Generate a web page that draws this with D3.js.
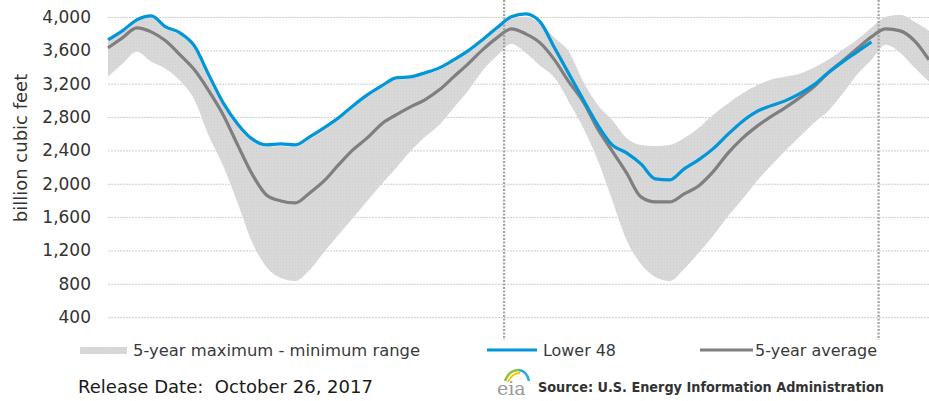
<!DOCTYPE html>
<html><head><meta charset="utf-8">
<script src="https://cdn.jsdelivr.net/npm/d3@7"></script>
<style>body{margin:0;background:#fff;} svg{display:block;}</style>
</head><body><svg id="chart" width="929" height="401"></svg>
<script>
// week index (every 2 weeks) for the 5-year series
const weeks = [0,2,4,6,8,10,12,14,16,18,20,22,24,26,28,30,32,34,36,38,40,42,44,46,48,50,52,54,56,58,60,62,64,66,68,70,72,74,76,78,80,82,84,86,88,90,92,94,96,98,100,102,104,106,108,110,112,114];
// Lower 48 working gas in storage (billion cubic feet), weeks 0..106
const lower48 = [3726,3834,3966,4014,3882,3810,3654,3306,2970,2718,2538,2466,2478,2466,2562,2670,2790,2934,3066,3174,3270,3282,3330,3390,3486,3594,3726,3870,4002,4038,3942,3630,3318,3006,2706,2466,2370,2238,2058,2046,2178,2286,2418,2586,2742,2862,2934,2994,3078,3186,3330,3462,3582,3702];
// 5-year average
const avg5 = [3630,3750,3870,3822,3714,3546,3366,3114,2826,2466,2118,1866,1794,1770,1890,2034,2226,2406,2550,2718,2826,2922,3006,3126,3282,3438,3606,3750,3858,3798,3690,3486,3222,2982,2658,2394,2130,1842,1782,1782,1878,1974,2142,2358,2538,2682,2802,2910,3030,3162,3330,3474,3618,3762,3858,3834,3714,3486];
// 5-year maximum
const max5 = [3702,3810,3942,3990,3858,3786,3630,3282,2946,2694,2514,2442,2454,2442,2538,2646,2766,2910,3042,3150,3246,3258,3306,3366,3462,3570,3702,3846,3978,4002,3918,3750,3582,3222,2946,2766,2550,2466,2454,2466,2550,2670,2826,2958,3078,3174,3246,3282,3318,3390,3486,3606,3726,3870,4002,4026,3942,3834];
// 5-year minimum
const min5 = [3282,3438,3582,3462,3378,3234,3006,2574,2214,1770,1302,1002,870,834,966,1182,1386,1590,1794,1998,2190,2394,2562,2706,2910,3114,3354,3534,3678,3570,3414,3270,2982,2670,2286,1806,1326,1038,882,834,978,1170,1374,1602,1806,2022,2214,2394,2562,2730,2874,3078,3306,3486,3666,3570,3390,3222];
const yTicks = [400,800,1200,1600,2000,2400,2800,3200,3600,4000];
const markerWeeks = [55,107];
const legendLabels = ["5-year maximum - minimum range","Lower 48","5-year average"];
const yTitle = "billion cubic feet";
const releaseText = "Release Date:  October 26, 2017";
const sourceText = "Source: U.S. Energy Information Administration";

const svg = d3.select('#chart');
const x = d3.scaleLinear().domain([0,114]).range([108,929]);
const y = d3.scaleLinear().domain([0,4000]).range([350.5,17]);

// subtle stipple pattern for the range band
const defs = svg.append('defs');
const pat = defs.append('pattern').attr('id','stip').attr('patternUnits','userSpaceOnUse').attr('width',3).attr('height',3);
pat.append('rect').attr('width',3).attr('height',3).attr('fill','#d8d8d8');
pat.append('rect').attr('x',1).attr('y',1).attr('width',1).attr('height',1).attr('fill','#cfcfcf');

// grid + y axis
const yAxis = d3.axisLeft(y).tickValues(yTicks).tickSize(-(929-108)).tickPadding(17).tickFormat(d3.format(','));
const gAxis = svg.append('g').attr('transform','translate(108,0)').call(yAxis);
gAxis.select('.domain').remove();
gAxis.selectAll('.tick line').attr('stroke','#cdcdcd').attr('stroke-width',1).attr('stroke-dasharray','2,1');
gAxis.selectAll('.tick text').attr('font-family','"DejaVu Sans", Verdana, sans-serif').attr('font-size',17).attr('fill','#333');

// band
const bandData = weeks.map((w,i)=>({w, lo:min5[i], hi:max5[i]}));
svg.append('path').datum(bandData)
  .attr('d', d3.area().x(d=>x(d.w)).y0(d=>y(d.lo)).y1(d=>y(d.hi)).curve(d3.curveMonotoneX))
  .attr('fill','url(#stip)');

// vertical dotted markers
svg.selectAll('.marker').data(markerWeeks).enter().append('line')
  .attr('x1',d=>x(d)).attr('x2',d=>x(d)).attr('y1',0).attr('y2',340)
  .attr('stroke','#a3a3a3').attr('stroke-width',2.2).attr('stroke-dasharray','2,1.5');

// 5-year average
const avgData = weeks.map((w,i)=>({w, v:avg5[i]}));
svg.append('path').datum(avgData)
  .attr('d', d3.line().x(d=>x(d.w)).y(d=>y(d.v)).curve(d3.curveMonotoneX))
  .attr('fill','none').attr('stroke','#7f7f7f').attr('stroke-width',3.2).attr('stroke-linejoin','round');

// Lower 48
const l48Data = lower48.map((v,i)=>({w:weeks[i], v}));
svg.append('path').datum(l48Data)
  .attr('d', d3.line().x(d=>x(d.w)).y(d=>y(d.v)).curve(d3.curveMonotoneX))
  .attr('fill','none').attr('stroke','#0096d7').attr('stroke-width',3.2).attr('stroke-linejoin','round');

// y title
svg.append('text').attr('transform','translate(27,148) rotate(-90)')
  .attr('text-anchor','middle').attr('font-family','"DejaVu Sans", Verdana, sans-serif')
  .attr('font-size',18).attr('fill','#333').text(yTitle);

// legend
const lg = svg.append('g').attr('font-family','"DejaVu Sans", Verdana, sans-serif').attr('font-size',16).attr('fill','#3a3a3a');
lg.append('rect').attr('x',80).attr('y',347).attr('width',47).attr('height',7).attr('fill','url(#stip)');
lg.append('text').attr('x',133).attr('y',356).attr('textLength',287).attr('lengthAdjust','spacingAndGlyphs').text(legendLabels[0]);
lg.append('line').attr('x1',487).attr('x2',537).attr('y1',350).attr('y2',350).attr('stroke','#0096d7').attr('stroke-width',3.2);
lg.append('text').attr('x',543).attr('y',356).attr('textLength',73).attr('lengthAdjust','spacingAndGlyphs').text(legendLabels[1]);
lg.append('line').attr('x1',700).attr('x2',753).attr('y1',350).attr('y2',350).attr('stroke','#7f7f7f').attr('stroke-width',3.2);
lg.append('text').attr('x',755).attr('y',356).attr('textLength',122).attr('lengthAdjust','spacingAndGlyphs').text(legendLabels[2]);

// footer
svg.append('text').attr('x',78).attr('y',393).attr('font-family','"DejaVu Sans", Verdana, sans-serif')
  .style('white-space','pre')
  .attr('font-size',18).attr('fill','#1a1a1a').attr('textLength',295).attr('lengthAdjust','spacingAndGlyphs').text(releaseText);

// eia logo
const logo = svg.append('g');
logo.append('path').attr('d','M505,381 Q509,370 519,370').attr('fill','none').attr('stroke','#8cc63f').attr('stroke-width',2.5);
logo.append('path').attr('d','M508,382 Q512,373 520,373').attr('fill','none').attr('stroke','#f2c500').attr('stroke-width',1.8);
logo.append('path').attr('d','M519,370 Q527,371 529,381').attr('fill','none').attr('stroke','#2aa8e0').attr('stroke-width',2.5);
logo.append('text').attr('x',497).attr('y',395).attr('font-family','"DejaVu Serif", serif').attr('font-size',19).attr('fill','#9a9a9a').text('eia');

svg.append('text').attr('x',538).attr('y',392).attr('font-family','"DejaVu Sans", Verdana, sans-serif')
  .attr('font-size',14).attr('font-weight','bold').attr('fill','#333').attr('textLength',346).attr('lengthAdjust','spacingAndGlyphs').text(sourceText);
</script></body></html>
